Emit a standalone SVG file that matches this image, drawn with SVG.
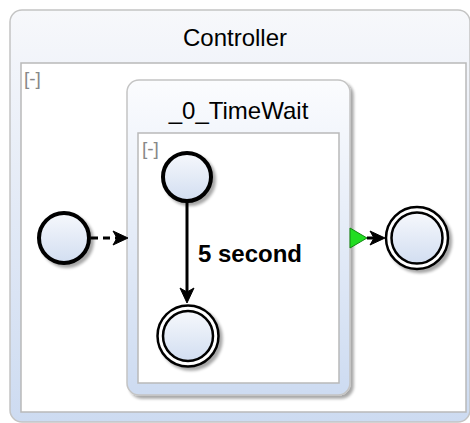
<svg xmlns="http://www.w3.org/2000/svg" width="470" height="423" viewBox="0 0 470 423">
  <defs>
    <linearGradient id="boxGrad" x1="0" y1="0" x2="0" y2="1">
      <stop offset="0" stop-color="#f7f8fb"/>
      <stop offset="1" stop-color="#cddbf1"/>
    </linearGradient>
    <linearGradient id="stateGrad" x1="0" y1="0" x2="0" y2="1">
      <stop offset="0" stop-color="#fbfcfe"/>
      <stop offset="1" stop-color="#cddbf1"/>
    </linearGradient>
    <linearGradient id="circleGrad" x1="0" y1="0" x2="0" y2="1">
      <stop offset="0" stop-color="#f6f8fc"/>
      <stop offset="1" stop-color="#d2def1"/>
    </linearGradient>
    <filter id="shadow" x="-20%" y="-20%" width="140%" height="140%">
      <feGaussianBlur in="SourceAlpha" stdDeviation="1.5"/>
      <feOffset dx="3" dy="3" result="b"/>
      <feComponentTransfer><feFuncA type="linear" slope="0.35"/></feComponentTransfer>
      <feMerge><feMergeNode/><feMergeNode in="SourceGraphic"/></feMerge>
    </filter>
  </defs>
  <style>
    .title { font-family: "Liberation Sans", Arial, sans-serif; font-size: 24px; fill: #000; text-anchor: middle; }
    .toggle { font-family: "Liberation Sans", Arial, sans-serif; font-size: 19px; fill: #888; }
    .label { font-family: "Liberation Sans", Arial, sans-serif; font-size: 24px; font-weight: bold; fill: #000; text-anchor: middle; }
    .panel { fill: #fff; stroke: #b9b9b9; stroke-width: 1.5; }
    .state { stroke: #000; stroke-width: 4; fill: url(#circleGrad); }
    .ring { stroke: #000; stroke-width: 2.5; fill: #fff; }
    .ringIn { stroke: #000; stroke-width: 2.5; fill: url(#circleGrad); }
    .edge { stroke: #000; stroke-width: 3; fill: none; }
    .head { fill: #000; stroke: #000; stroke-width: 1; stroke-linejoin: miter; }
  </style>

  <!-- Controller composite state -->
  <g id="controller">
    <rect x="10" y="10" width="460" height="412" rx="12" fill="url(#boxGrad)" stroke="#c4c4c4" stroke-width="1.5"/>
    <text class="title" x="235" y="46">Controller</text>
    <rect class="panel" x="21" y="63" width="445" height="349"/>
    <text class="toggle" x="24" y="85">[-]</text>
  </g>

  <!-- Controller initial pseudostate -->
  <g id="controller-initial" filter="url(#shadow)">
    <circle class="state" cx="64" cy="238" r="25"/>
  </g>

  <!-- _0_TimeWait composite state -->
  <g id="timewait">
    <rect x="127" y="80" width="223" height="315" rx="12" fill="url(#stateGrad)" stroke="#c4c4c4" stroke-width="1.5" filter="url(#shadow)"/>
    <text class="title" x="238.5" y="119">_0_TimeWait</text>
    <rect class="panel" x="138" y="133" width="201" height="250"/>
    <text class="toggle" x="142" y="155">[-]</text>
  </g>

  <!-- TimeWait initial pseudostate -->
  <g id="timewait-initial" filter="url(#shadow)">
    <circle class="state" cx="187" cy="177" r="24"/>
  </g>

  <!-- TimeWait final state -->
  <g id="timewait-final" filter="url(#shadow)">
    <circle class="ring" cx="188" cy="336" r="30.5"/>
    <circle class="ringIn" cx="188" cy="336" r="25"/>
  </g>

  <!-- Controller final state -->
  <g id="controller-final" filter="url(#shadow)">
    <circle class="ring" cx="417" cy="238" r="31"/>
    <circle class="ringIn" cx="417" cy="238" r="25.5"/>
  </g>

  <!-- Transitions -->
  <g id="connectors">
    <!-- initial -> _0_TimeWait (dashed) -->
    <path class="edge" d="M91 238 H118" stroke-dasharray="7 5"/>
    <path class="head" d="M128 238 L113 231 L117 238 L113 245 Z"/>

    <!-- timer transition inside _0_TimeWait -->
    <path class="edge" d="M187 202 V292"/>
    <path class="head" d="M187 303 L180 288 L187 292 L194 288 Z"/>
    <text class="label" x="250" y="262">5 second</text>

    <!-- completion exit -> final -->
    <path d="M350 228 L367 238 L350 248 Z" fill="#22dd22" stroke="#118811" stroke-width="1"/>
    <path class="edge" d="M367 238 H376"/>
    <path class="head" d="M385 238 L370 231 L374 238 L370 245 Z"/>
  </g>
</svg>
